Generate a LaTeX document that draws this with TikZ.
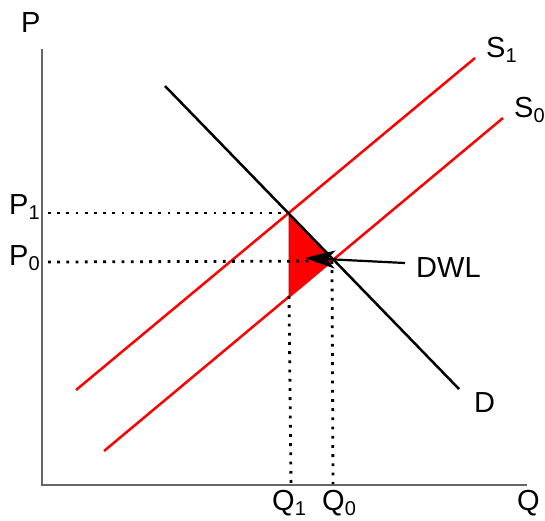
\documentclass[tikz,border=0pt]{standalone}
\usepackage{fontspec}
\setmainfont{Liberation Sans}
\usepackage{tikz}
\usetikzlibrary{arrows.meta,positioning,calc}

\newcommand{\sublbl}[2]{#1\raisebox{-5pt}{\fontsize{20}{22}\selectfont #2}}

\begin{document}
\begin{tikzpicture}[
  x=1pt, y=-1pt,
  every node/.style={font=\fontsize{29}{32}\selectfont, inner sep=0pt, anchor=base west},
  axis/.style={draw=black!60, line width=1.5pt},
  curve/.style={line width=2.5pt},
  supply/.style={curve, draw=red},
  demand/.style={curve, draw=black},
  guide/.style={line width=2.8pt, dash pattern=on 2.8pt off 6.4pt},
  dwl/.style={fill=red, draw=red!75!black, line width=0.6pt},
  >={Stealth[length=30pt,width=18pt,inset=8pt]}
]
\useasboundingbox (0,0) rectangle (545,520);

% axes
\coordinate (O)    at (42,485);
\coordinate (Ptop) at (42,49);
\coordinate (Qend) at (527,485);
\draw[axis] (Ptop) -- (O) -- (Qend);
\node (Plbl) at (21,32) {P};
\node (Qlbl) at (517,510) {Q};

% demand and supply
\coordinate (D0)  at (165,86);
\coordinate (D1)  at (459,389);
\coordinate (S1a) at (76,390);
\coordinate (S1b) at (475,58);
\coordinate (S0a) at (104,451);
\coordinate (S0b) at (503,118);

% equilibria
\coordinate (E1) at (289,213);
\coordinate (E0) at (332,261);
\coordinate (B)  at (289,296);

% deadweight loss
\draw[dwl] (E1) -- (E0) -- (B) -- cycle;

\draw[supply] (S1a) -- (S1b);
\draw[supply] (S0a) -- (S0b);
\draw[demand] (D0) -- (D1);

\node (S1lbl) at (486,57) {\sublbl{S}{1}};
\node (S0lbl) at (514,117) {\sublbl{S}{0}};
\node (Dlbl)  at (474,412) {D};

% dotted guides
\coordinate (P1ax) at (48,213);
\coordinate (P0ax) at (48,262);
\coordinate (Q1ax) at (291,484);
\coordinate (Q0ax) at (333,484);
\draw[guide] (P1ax) -- (E1);
\draw[guide] (P0ax) -- (E0);
\draw[guide] (B) -- (Q1ax);
\draw[guide] (E0) -- (Q0ax);

\node (P1lbl) at (9,214) {\sublbl{P}{1}};
\node (P0lbl) at (9,265) {\sublbl{P}{0}};
\node (Q1lbl) at (272,510) {\sublbl{Q}{1}};
\node (Q0lbl) at (322,510) {\sublbl{Q}{0}};

% label with arrow
\node (DWL) at (416,277) {DWL};
\coordinate (tail) at (405,263);
\coordinate (tip)  at (305,258);
\draw[->, line width=2.2pt] (tail) -- (tip);
\end{tikzpicture}
\end{document}
